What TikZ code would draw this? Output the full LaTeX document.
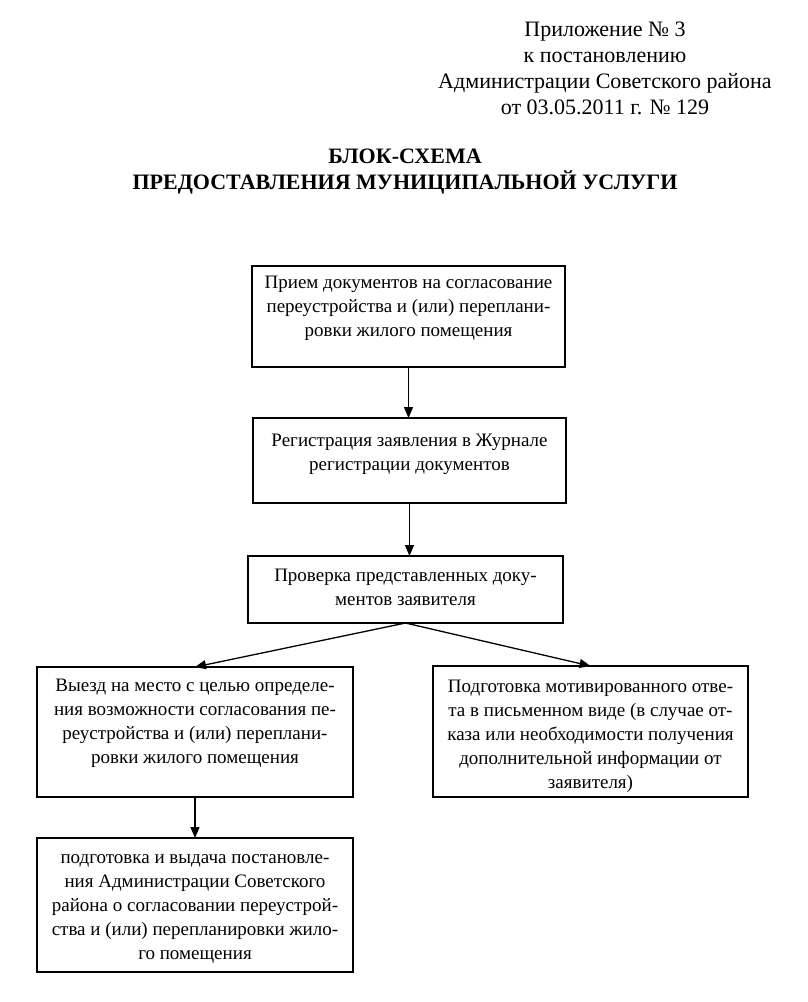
\documentclass[tikz,border=0pt]{standalone}
\usepackage{fontspec}
\setmainfont{Liberation Serif}
\usetikzlibrary{arrows.meta}
\begin{document}
\begin{tikzpicture}[x=1pt,y=-1pt,
  box/.style={draw, line width=1.3pt, outer sep=0pt, inner sep=0pt, anchor=north west},
  txt/.style={align=center, font=\fontsize{19}{24}\selectfont, inner sep=0pt, anchor=north},
  arr/.style={-{Triangle[length=11pt,width=9pt]}, line width=1.3pt},
  hdr/.style={align=center, font=\fontsize{22}{26}\selectfont, inner sep=0pt, anchor=north}]
\useasboundingbox (0,0) rectangle (807,1002);
\node[hdr] (h) at (605,22) {Приложение № 3\\к постановлению\\Администрации Советского района\\от 03.05.2011 г. № 129};
\node[hdr, font=\bfseries\fontsize{22}{26}\selectfont] (title) at (405,149) {БЛОК-СХЕМА\\ПРЕДОСТАВЛЕНИЯ МУНИЦИПАЛЬНОЙ УСЛУГИ};

\node[box, minimum width=313pt, minimum height=101pt] (b1) at (252,266) {};
\node[box, minimum width=313pt, minimum height=85pt] (b2) at (253,418) {};
\node[box, minimum width=315pt, minimum height=67pt] (b3) at (248,556) {};
\node[box, minimum width=316pt, minimum height=130pt] (b4) at (37,667) {};
\node[box, minimum width=316pt, minimum height=134pt] (b5) at (37,838) {};
\node[box, minimum width=315pt, minimum height=131pt] (b6) at (433,666) {};

\node[txt] (t1) at ([yshift=-10pt]b1.north) {Прием документов на согласование\\переустройства и (или) переплани-\\ровки жилого помещения};
\node[txt] (t2) at ([yshift=-16pt]b2.north) {Регистрация заявления в Журнале\\регистрации документов};
\node[txt] (t3) at ([yshift=-13pt]b3.north) {Проверка представленных доку-\\ментов заявителя};
\node[txt] (t4) at ([yshift=-12pt]b4.north) {Выезд на место с целью определе-\\ния возможности согласования пе-\\реустройства и (или) переплани-\\ровки жилого помещения};
\node[txt] (t6) at ([yshift=-14pt]b6.north) {Подготовка мотивированного отве-\\та в письменном виде (в случае от-\\каза или необходимости получения\\дополнительной информации от\\заявителя)};
\node[txt] (t5) at ([yshift=-16pt]b5.north) {подготовка и выдача постановле-\\ния Администрации Советского\\района о согласовании переустрой-\\ства и (или) перепланировки жило-\\го помещения};

\draw[arr] (b1.south) -- (b1.south |- b2.north);
\draw[arr] (b2.south) -- (b2.south |- b3.north);
\draw[arr] (b3.south) -- (b4.north);
\draw[arr] (b3.south) -- (b6.north);
\draw[arr] (b4.south) -- (b5.north);
\end{tikzpicture}
\end{document}
